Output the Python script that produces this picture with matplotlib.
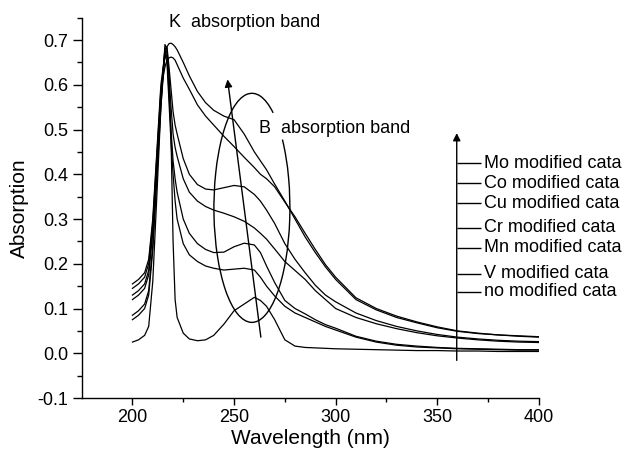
import numpy as np
import matplotlib.pyplot as plt
from matplotlib.patches import Arc

plt.rcParams['font.family'] = 'Liberation Sans'

# UV-vis spectra of the modified catalysts
wavelength = [200, 203, 206, 208, 210, 212, 214, 216, 217, 218, 219, 220, 221, 222,
              225, 228, 232, 236, 240, 245, 250, 255, 260, 263, 266, 270, 275, 280,
              285, 290, 295, 300, 310, 320, 330, 340, 350, 360, 370, 380, 390, 400]

mo = [.155, .165, .18, .21, .30, .45, .60, .67, .685, .692, .693, .69, .685, .678,
      .65, .62, .585, .56, .543, .53, .522, .49, .45, .43, .41, .378, .34, .30,
      .26, .225, .193, .165, .12, .097, .08, .068, .057, .049, .044, .041, .039, .037]
co = [.145, .155, .17, .20, .29, .44, .59, .64, .655, .66, .662, .66, .655, .645,
      .615, .59, .555, .53, .51, .485, .462, .438, .415, .40, .39, .372, .338, .305,
      .268, .232, .198, .17, .124, .10, .083, .07, .059, .05, .045, .041, .038, .036]
cu = [.13, .14, .155, .185, .28, .43, .58, .68, .685, .64, .59, .54, .51, .49,
      .435, .40, .377, .367, .365, .37, .375, .372, .355, .34, .32, .29, .245, .21,
      .18, .152, .13, .115, .09, .073, .06, .05, .042, .036, .032, .029, .027, .026]
cr = [.12, .13, .145, .175, .27, .42, .57, .67, .675, .62, .55, .49, .46, .44,
      .39, .36, .34, .328, .32, .313, .305, .295, .28, .268, .255, .233, .205, .185,
      .165, .14, .12, .10, .08, .066, .055, .046, .039, .034, .03, .027, .025, .024]
mn = [.085, .095, .11, .14, .24, .40, .56, .68, .66, .58, .50, .43, .39, .36,
      .30, .268, .245, .232, .225, .226, .238, .246, .242, .225, .195, .158, .118, .10,
      .088, .075, .064, .056, .038, .027, .02, .016, .013, .011, .01, .009, .008, .008]
v = [.075, .085, .10, .13, .23, .39, .55, .67, .65, .56, .47, .40, .34, .30,
     .245, .22, .205, .195, .19, .186, .188, .19, .186, .17, .15, .128, .105, .09,
     .08, .07, .06, .052, .036, .025, .018, .014, .012, .01, .009, .008, .007, .007]
no_mod = [.025, .03, .04, .06, .16, .35, .55, .69, .68, .62, .48, .25, .12, .08,
          .045, .032, .028, .03, .04, .065, .095, .11, .125, .118, .105, .075, .03, .016,
          .013, .012, .011, .01, .009, .008, .007, .006, .006, .005, .005, .004, .004, .004]

labels = ["Mo modified cata", "Co modified cata", "Cu modified cata",
          "Cr modified cata", "Mn modified cata", "V modified cata",
          "no modified cata"]
label_y = [0.4245, 0.380, 0.335, 0.281, 0.236, 0.178, 0.137]

fig = plt.figure(figsize=(6.28, 4.53), dpi=100)
ax = fig.add_axes([0.130, 0.1214, 0.728, 0.8396])

for s in [mo, co, cu, cr, mn, v, no_mod]:
    ax.plot(wavelength, s, color='black', lw=0.9)

ax.set_xlim(175, 400)
ax.set_ylim(-0.1, 0.75)
ax.set_xticks([200, 250, 300, 350, 400])
ax.set_xticks([225, 275, 325, 375], minor=True)
ax.set_yticks(np.arange(-0.1, 0.71, 0.1))
ax.set_yticks(np.arange(-0.05, 0.76, 0.1), minor=True)
ax.yaxis.set_major_formatter(plt.FormatStrFormatter('%.1f'))

for side in ['top', 'right']:
    ax.spines[side].set_visible(False)
for side in ['left', 'bottom']:
    ax.spines[side].set_linewidth(1.0)
ax.tick_params(axis='both', labelsize=13, width=1.0)
ax.tick_params(axis='y', which='major', length=6.5, pad=3)
ax.tick_params(axis='y', which='minor', length=3.5, width=1.0)
ax.tick_params(axis='x', which='major', length=5, pad=3)
ax.tick_params(axis='x', which='minor', length=3, width=1.0)

ax.set_xlabel('Wavelength (nm)', fontsize=15, labelpad=2)
ax.set_ylabel('Absorption', fontsize=15, labelpad=6)

# band annotations
ax.text(217.9, 0.7285, 'K  absorption band', fontsize=13, va='baseline')
ax.text(262.4, 0.492, 'B  absorption band', fontsize=13, va='baseline')

# ellipse around the B band, opened where the label sits
ew, eh = 37.4, 0.512
t1, t2 = np.radians(56), np.radians(36.6)
th1 = np.degrees(np.arctan2(eh * np.sin(t1), ew * np.cos(t1)))
th2 = np.degrees(np.arctan2(eh * np.sin(t2), ew * np.cos(t2))) + 360
ax.add_patch(Arc((258.8, 0.325), ew, eh, theta1=th1, theta2=th2,
                 color='black', lw=1.0))

arrow = dict(arrowstyle='-|>', color='black', lw=1.0, mutation_scale=11,
             shrinkA=0, shrinkB=0)
ax.annotate('', xy=(246.8, 0.612), xytext=(263.2, 0.036), arrowprops=arrow)
ax.annotate('', xy=(359.6, 0.492), xytext=(359.6, -0.016), arrowprops=arrow)

# label scale on the right
ax.hlines(label_y, 359.6, 371.5, color='black', lw=1.0)
for name, y in zip(labels, label_y):
    ax.text(373.2, y, name, fontsize=13, va='center', clip_on=False)

fig.savefig('out.png', dpi=100)
